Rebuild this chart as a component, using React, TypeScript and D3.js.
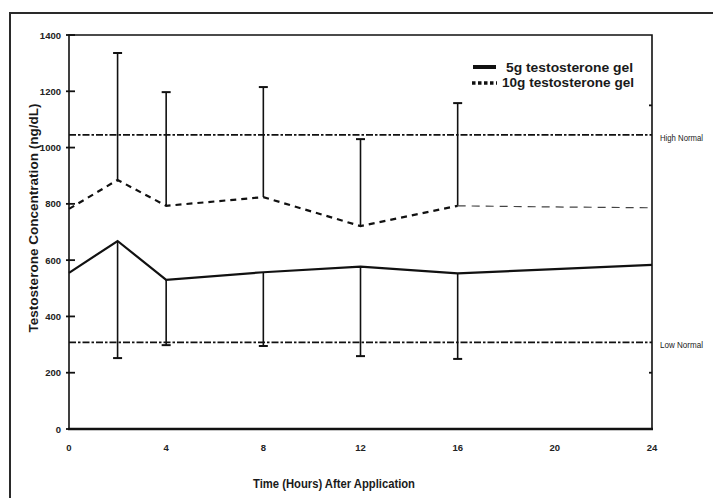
import React, { useEffect, useRef } from "react";
import * as d3 from "d3";

// hours after application and mean concentrations (ng/dL)
const hours = [0, 2, 4, 8, 12, 16, 20, 24];
const gel5 = [555, 668, 530, 557, 577, 553, 568, 583];
const gel10 = [782, 885, 793, 824, 721, 793, 789, 786];

// error bars: 5g goes down, 10g goes up
const errHours = [2, 4, 8, 12, 16];
const gel5Low = [252, 298, 295, 259, 249];
const gel10High = [1336, 1197, 1215, 1030, 1158];

const xTicks = [0, 4, 8, 12, 16, 20, 24];
const yTicks = [0, 200, 400, 600, 800, 1000, 1200, 1400];
const rightTicks = [200, 1150];
const normalLabels = ["High Normal", "Low Normal"];
const normalValues = [1045, 308];
const legendLabels = ["5g testosterone gel", "10g testosterone gel"];

const W = 713;
const H = 498;

export default function App() {
  const ref = useRef<SVGSVGElement>(null);

  useEffect(() => {
    const svg = d3.select(ref.current);
    svg.selectAll("*").remove();

    const ink = "#111";
    const left = 69, right = 652, top = 35, bottom = 429;

    const x = d3.scaleLinear().domain([0, 24]).range([left, right]);
    const y = d3.scaleLinear().domain([0, 1400]).range([bottom, top]);

    svg.append("rect").attr("width", W).attr("height", H).attr("fill", "#fff");

    // outer frame (runs off the right and bottom)
    svg.append("rect")
      .attr("x", 10).attr("y", 13)
      .attr("width", 720).attr("height", 520)
      .attr("fill", "none").attr("stroke", "#2a2a2a").attr("stroke-width", 2);

    // plot frame
    svg.append("path")
      .attr("d", `M${left},${bottom}V${top}H${right}V${bottom}`)
      .attr("fill", "none").attr("stroke", ink).attr("stroke-width", 1.6);
    svg.append("line")
      .attr("x1", left - 1).attr("x2", right + 1)
      .attr("y1", bottom).attr("y2", bottom)
      .attr("stroke", ink).attr("stroke-width", 2.6);

    // y ticks + labels
    const tickFont = "'Liberation Sans Narrow', 'Liberation Sans', Arial, sans-serif";
    svg.selectAll(".yt").data(yTicks).join("line")
      .attr("x1", left - 3).attr("x2", left + 6)
      .attr("y1", d => y(d)).attr("y2", d => y(d))
      .attr("stroke", ink).attr("stroke-width", 1.8);
    svg.selectAll(".yl").data(yTicks).join("text")
      .attr("x", 61).attr("y", d => y(d) + 3.5)
      .attr("text-anchor", "end")
      .style("font-family", tickFont).style("font-size", "9.5px").style("font-weight", "bold")
      .attr("fill", "#222")
      .text(d => d);

    svg.selectAll(".rt").data(rightTicks).join("line")
      .attr("x1", right - 3).attr("x2", right)
      .attr("y1", d => y(d)).attr("y2", d => y(d))
      .attr("stroke", ink).attr("stroke-width", 1.8);

    // x tick labels
    svg.selectAll(".xl").data(xTicks).join("text")
      .attr("x", d => x(d)).attr("y", 451)
      .attr("text-anchor", "middle")
      .style("font-family", tickFont).style("font-size", "9.5px").style("font-weight", "bold")
      .attr("fill", "#222")
      .text(d => d);

    // normal range reference lines
    normalValues.forEach((v, i) => {
      svg.append("line")
        .attr("x1", left).attr("x2", right)
        .attr("y1", y(v)).attr("y2", y(v))
        .attr("stroke", ink).attr("stroke-width", 1.8)
        .attr("stroke-dasharray", "7,2,2.5,2");
      svg.append("text")
        .attr("x", 660).attr("y", y(v) + 6)
        .style("font-family", tickFont).style("font-size", "9.5px")
        .attr("fill", "#222")
        .attr("textLength", 43).attr("lengthAdjust", "spacingAndGlyphs")
        .text(normalLabels[i]);
    });

    // error bars
    const cap = 4.5;
    errHours.forEach((h, i) => {
      const bars = [
        [gel5[hours.indexOf(h)], gel5Low[i]],
        [gel10[hours.indexOf(h)], gel10High[i]],
      ];
      bars.forEach(([from, to]) => {
        svg.append("line")
          .attr("x1", x(h)).attr("x2", x(h))
          .attr("y1", y(from)).attr("y2", y(to))
          .attr("stroke", ink).attr("stroke-width", 1.6);
        svg.append("line")
          .attr("x1", x(h) - cap).attr("x2", x(h) + cap)
          .attr("y1", y(to)).attr("y2", y(to))
          .attr("stroke", ink).attr("stroke-width", 2);
      });
    });

    const line = d3.line<number>()
      .x((d, i) => x(hours[i]))
      .y(d => y(d));

    // 5g solid
    svg.append("path")
      .attr("d", line(gel5))
      .attr("fill", "none").attr("stroke", ink).attr("stroke-width", 2.2)
      .attr("stroke-linejoin", "miter");

    // 10g dashed: heavier up to 16 h, lighter afterwards
    const cut = hours.indexOf(16);
    const line10a = d3.line<number>().x((d, i) => x(hours[i])).y(d => y(d));
    const line10b = d3.line<number>().x((d, i) => x(hours[i + cut])).y(d => y(d));
    svg.append("path")
      .attr("d", line10a(gel10.slice(0, cut + 1)))
      .attr("fill", "none").attr("stroke", ink).attr("stroke-width", 2.2)
      .attr("stroke-dasharray", "6,5");
    svg.append("path")
      .attr("d", line10b(gel10.slice(cut)))
      .attr("fill", "none").attr("stroke", "#444").attr("stroke-width", 1.2)
      .attr("stroke-dasharray", "8,6");

    // legend
    const legendFont = "'Liberation Sans', Arial, sans-serif";
    svg.append("line")
      .attr("x1", 473).attr("x2", 496).attr("y1", 67).attr("y2", 67)
      .attr("stroke", ink).attr("stroke-width", 4);
    svg.append("line")
      .attr("x1", 472).attr("x2", 497).attr("y1", 83).attr("y2", 83)
      .attr("stroke", ink).attr("stroke-width", 3.5)
      .attr("stroke-dasharray", "3.5,2.5");
    svg.append("text")
      .attr("x", 506).attr("y", 72)
      .style("font-family", legendFont).style("font-size", "13.5px").style("font-weight", "bold")
      .attr("fill", "#1a1a1a")
      .attr("textLength", 127).attr("lengthAdjust", "spacingAndGlyphs")
      .text(legendLabels[0]);
    svg.append("text")
      .attr("x", 502).attr("y", 87)
      .style("font-family", legendFont).style("font-size", "13.5px").style("font-weight", "bold")
      .attr("fill", "#1a1a1a")
      .attr("textLength", 132).attr("lengthAdjust", "spacingAndGlyphs")
      .text(legendLabels[1]);

    // axis titles
    svg.append("text")
      .attr("transform", "translate(38,218) rotate(-90)")
      .attr("text-anchor", "middle")
      .style("font-family", legendFont).style("font-size", "12.5px").style("font-weight", "bold")
      .attr("fill", "#1a1a1a")
      .attr("textLength", 229).attr("lengthAdjust", "spacingAndGlyphs")
      .text("Testosterone Concentration (ng/dL)");
    svg.append("text")
      .attr("x", 334).attr("y", 488)
      .attr("text-anchor", "middle")
      .style("font-family", tickFont).style("font-size", "12px").style("font-weight", "bold")
      .attr("fill", "#1a1a1a")
      .attr("textLength", 162).attr("lengthAdjust", "spacingAndGlyphs")
      .text("Time (Hours) After Application");
  }, []);

  return (
    <svg
      ref={ref}
      width={W}
      height={H}
      style={{ position: "absolute", left: 0, top: 0, display: "block" }}
    />
  );
}
